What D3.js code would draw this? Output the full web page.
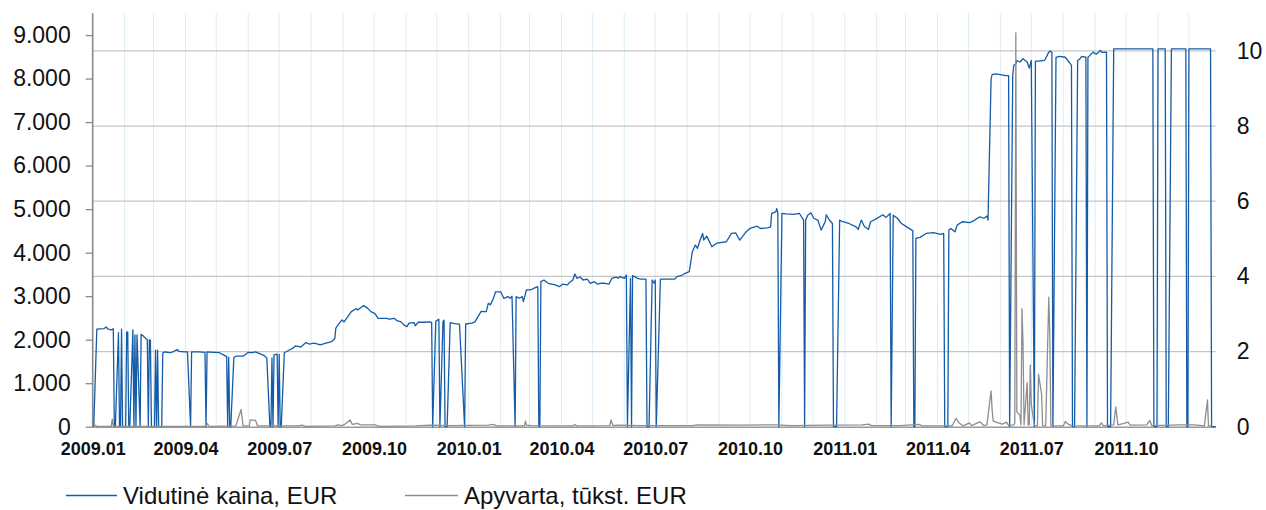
<!DOCTYPE html>
<html><head><meta charset="utf-8">
<script src="https://cdn.jsdelivr.net/npm/d3@7"></script>
<style>html,body{margin:0;padding:0;background:#fff}svg{display:block}</style>
</head><body>
<svg id="c" width="1266" height="510"></svg>
<script>
const priceSeries = [
["2009-01-02",0],["2009-01-05",2240],["2009-01-08",2250],["2009-01-12",2255],["2009-01-14",2290],["2009-01-16",2240],["2009-01-19",2225],["2009-01-21",2250],
["2009-01-22",0],["2009-01-23",0],["2009-01-26",2160],["2009-01-27",0],["2009-01-28",0],["2009-01-29",2240],["2009-01-30",0],["2009-02-02",0],["2009-02-03",2180],["2009-02-04",2175],["2009-02-05",0],["2009-02-06",0],["2009-02-09",2225],["2009-02-10",0],["2009-02-11",2110],["2009-02-12",0],["2009-02-13",2110],["2009-02-16",0],["2009-02-17",2125],["2009-02-18",2100],["2009-02-19",2090],["2009-02-20",2060],["2009-02-23",2000],["2009-02-24",0],["2009-02-25",2000],["2009-02-26",1980],["2009-02-27",0],["2009-03-02",0],["2009-03-03",1760],["2009-03-04",0],["2009-03-05",1760],["2009-03-06",0],["2009-03-09",0],["2009-03-10",1690],["2009-03-12",1720],["2009-03-16",1700],["2009-03-19",1710],["2009-03-24",1775],["2009-03-26",1730],["2009-03-31",1720],["2009-04-03",1720],["2009-04-06",0],["2009-04-07",1720],["2009-04-14",1720],["2009-04-20",1710],["2009-04-21",0],["2009-04-22",1720],["2009-04-28",1710],["2009-05-04",1700],["2009-05-08",1650],["2009-05-11",1612],["2009-05-12",0],["2009-05-13",1600],["2009-05-14",0],["2009-05-15",0],["2009-05-18",1590],["2009-05-20",1620],["2009-05-27",1620],["2009-06-01",1710],["2009-06-05",1700],["2009-06-08",1720],["2009-06-12",1680],["2009-06-16",1640],["2009-06-19",1580],["2009-06-22",0],["2009-06-23",0],["2009-06-24",1580],["2009-06-25",0],["2009-06-26",1650],["2009-06-29",1670],["2009-06-30",0],["2009-07-01",1660],["2009-07-02",0],["2009-07-03",0],["2009-07-06",1700],["2009-07-09",1740],
["2009-07-10",1750],["2009-07-14",1800],["2009-07-17",1858],["2009-07-22",1830],["2009-07-27",1934],["2009-07-30",1900],["2009-08-04",1920],["2009-08-10",1880],["2009-08-17",1934],["2009-08-21",1957],["2009-08-24",2028],["2009-08-25",2264],["2009-08-27",2333],["2009-08-31",2454],["2009-09-02",2408],["2009-09-09",2645],["2009-09-14",2716],["2009-09-15",2680],["2009-09-21",2783],["2009-09-25",2720],["2009-09-28",2645],["2009-10-02",2600],["2009-10-05",2490],["2009-10-13",2490],["2009-10-16",2470],["2009-10-21",2490],["2009-10-23",2440],["2009-10-27",2415],["2009-10-30",2340],["2009-11-02",2300],["2009-11-04",2380],["2009-11-09",2390],["2009-11-10",2320],["2009-11-13",2400],["2009-11-19",2400],["2009-11-24",2410],["2009-11-26",2400],["2009-11-27",0],["2009-11-30",2420],["2009-12-03",2470],["2009-12-04",0],["2009-12-07",2420],["2009-12-08",2450],["2009-12-09",0],["2009-12-11",0],["2009-12-14",2390],["2009-12-18",2370],["2009-12-23",2355],["2009-12-28",0],["2009-12-29",2360],
["2010-01-04",2380],["2010-01-07",2410],["2010-01-13",2650],["2010-01-18",2645],["2010-01-20",2836],["2010-01-22",2800],["2010-01-25",2950],["2010-01-27",3100],["2010-02-01",3100],["2010-02-04",2951],["2010-02-08",2990],["2010-02-10",2951],["2010-02-12",3000],["2010-02-15",0],["2010-02-16",2989],["2010-02-19",2951],["2010-02-22",2990],["2010-02-23",2874],["2010-02-26",3142],["2010-03-02",3142],["2010-03-05",3180],["2010-03-09",3218],["2010-03-10",0],["2010-03-11",0],["2010-03-12",3333],["2010-03-15",3371],["2010-03-19",3296],["2010-03-26",3257],["2010-03-30",3218],["2010-04-02",3275],["2010-04-07",3257],["2010-04-08",3296],["2010-04-12",3371],["2010-04-14",3509],["2010-04-16",3410],["2010-04-19",3440],["2010-04-22",3371],["2010-04-26",3390],["2010-04-29",3296],["2010-05-03",3333],["2010-05-06",3275],["2010-05-10",3300],["2010-05-13",3296],["2010-05-17",3275],["2010-05-20",3410],["2010-05-24",3440],["2010-05-26",3410],["2010-05-28",3450],["2010-06-01",3410],["2010-06-03",3486],["2010-06-04",0],["2010-06-07",3410],["2010-06-08",0],["2010-06-09",3470],["2010-06-14",3410],["2010-06-17",3390],["2010-06-22",3390],["2010-06-23",0],["2010-06-25",0],["2010-06-28",3371],["2010-06-30",3296],["2010-07-01",3371],["2010-07-02",0],["2010-07-06",3390],["2010-07-20",3390],["2010-07-22",3450],["2010-07-26",3470],["2010-07-29",3510],["2010-08-03",3563],["2010-08-04",3700],["2010-08-06",4021],["2010-08-09",4174],["2010-08-11",4097],["2010-08-13",4250],["2010-08-16",4441],["2010-08-17",4290],["2010-08-20",4380],["2010-08-25",4136],["2010-08-30",4220],["2010-09-08",4250],["2010-09-13",4441],["2010-09-17",4456],["2010-09-21",4288],["2010-09-27",4472],["2010-10-01",4555],["2010-10-08",4608],["2010-10-11",4555],["2010-10-18",4570],["2010-10-21",4593],["2010-10-22",4900],["2010-10-26",4938],["2010-10-27",5014],["2010-10-28",4900],["2010-10-29",0],["2010-11-01",4900],["2010-11-05",4890],["2010-11-12",4880],["2010-11-18",4900],["2010-11-22",4748],["2010-11-23",0],["2010-11-24",4748],["2010-11-26",4860],["2010-11-29",4915],["2010-12-02",4790],["2010-12-06",4740],["2010-12-09",4518],["2010-12-13",4710],["2010-12-14",4870],["2010-12-17",4750],["2010-12-20",4670],["2010-12-21",0],["2010-12-24",0],["2010-12-27",4748],["2010-12-30",4710],
["2011-01-05",4670],["2011-01-12",4593],["2011-01-14",4533],["2011-01-17",4748],["2011-01-20",4600],["2011-01-24",4533],["2011-01-26",4710],["2011-01-31",4770],["2011-02-07",4870],["2011-02-10",4810],["2011-02-14",4900],["2011-02-15",0],["2011-02-17",4860],["2011-02-21",4790],["2011-02-25",4670],["2011-03-01",4610],["2011-03-07",4518],["2011-03-08",4500],["2011-03-09",0],["2011-03-10",0],["2011-03-11",4327],["2011-03-15",4350],["2011-03-21",4441],["2011-03-28",4460],["2011-04-04",4420],["2011-04-07",4441],["2011-04-08",0],["2011-04-11",0],["2011-04-12",4518],["2011-04-14",4555],["2011-04-18",4480],["2011-04-20",4633],["2011-04-25",4710],["2011-05-02",4690],["2011-05-06",4730],["2011-05-12",4823],["2011-05-16",4790],["2011-05-19",4840],["2011-05-20",4748],["2011-05-23",8000],["2011-05-24",8090],["2011-05-27",8110],["2011-06-01",8090],["2011-06-06",8070],["2011-06-09",8070],["2011-06-10",0],["2011-06-13",8070],["2011-06-14",8300],["2011-06-16",8340],["2011-06-17",8416],["2011-06-20",8380],["2011-06-23",8455],["2011-06-27",8380],["2011-06-29",8240],["2011-07-01",8416],["2011-07-04",0],["2011-07-05",8400],["2011-07-08",8400],["2011-07-14",8420],["2011-07-18",8607],["2011-07-19",8630],["2011-07-21",8607],["2011-07-22",0],["2011-07-25",8490],["2011-07-28",8510],["2011-08-03",8490],["2011-08-08",8340],["2011-08-09",8300],["2011-08-10",0],["2011-08-12",0],["2011-08-15",8416],["2011-08-17",8450],["2011-08-19",8510],["2011-08-23",8490],["2011-08-24",0],["2011-08-25",8490],["2011-08-26",8510],["2011-08-30",8607],["2011-09-02",8560],["2011-09-06",8645],["2011-09-08",8600],["2011-09-12",8607],["2011-09-13",0],["2011-09-16",0],["2011-09-19",8683],["2011-10-27",8683],["2011-10-28",0],["2011-10-31",0],["2011-11-01",8683],["2011-11-08",8683],["2011-11-09",0],["2011-11-11",0],["2011-11-14",8683],["2011-11-28",8683],["2011-11-29",0],["2011-11-30",0],["2011-12-01",8683],["2011-12-22",8683],["2011-12-23",0],["2011-12-27",0]
];

const turnoverSeries = [
["2009-01-02",0.06],["2009-01-05",0.01],["2009-01-19",0.01],["2009-01-20",0.2],["2009-01-21",0.01],
["2009-04-20",0.01],["2009-04-22",0.09],["2009-04-24",0.01],
["2009-05-20",0.02],["2009-05-25",0.46],["2009-05-27",0.02],
["2009-06-02",0.02],["2009-06-03",0.18],["2009-06-08",0.17],["2009-06-10",0.02],
["2009-07-20",0.02],["2009-07-23",0.04],["2009-07-27",0.01],
["2009-08-24",0.02],["2009-08-27",0.05],["2009-08-31",0.03],["2009-09-03",0.07],["2009-09-08",0.18],["2009-09-10",0.06],["2009-09-15",0.09],["2009-09-18",0.05],["2009-09-25",0.05],["2009-10-02",0.05],["2009-10-06",0.01],
["2009-11-10",0.02],["2009-11-25",0.04],["2009-12-14",0.03],
["2010-01-20",0.04],["2010-01-25",0.06],["2010-01-28",0.02],
["2010-02-24",0.02],["2010-02-25",0.15],["2010-02-26",0.04],["2010-03-03",0.03],
["2010-04-12",0.02],["2010-04-14",0.06],["2010-04-16",0.02],
["2010-05-18",0.03],["2010-05-19",0.18],["2010-05-21",0.03],["2010-05-26",0.04],
["2010-06-17",0.03],["2010-08-06",0.03],["2010-08-11",0.05],
["2010-09-20",0.04],["2010-10-20",0.05],["2010-10-27",0.05],["2010-11-10",0.03],["2010-12-15",0.04],
["2011-01-18",0.05],["2011-01-24",0.07],["2011-01-27",0.03],["2011-02-24",0.03],["2011-03-14",0.06],["2011-03-17",0.02],
["2011-04-15",0.02],["2011-04-19",0.22],["2011-04-22",0.1],["2011-04-26",0.02],["2011-05-02",0.1],["2011-05-04",0.03],["2011-05-12",0.13],["2011-05-16",0.03],["2011-05-19",0.05],["2011-05-20",0.29],["2011-05-23",0.95],["2011-05-24",0.45],["2011-05-25",0.15],["2011-05-30",0.1],["2011-06-03",0.07],["2011-06-07",0.12],["2011-06-09",0.03],["2011-06-14",0.05],["2011-06-15",0.1],["2011-06-16",10.48],["2011-06-17",0.4],["2011-06-20",0.3],["2011-06-21",0.05],["2011-06-22",3.14],["2011-06-23",2.2],["2011-06-24",0.05],["2011-06-27",1.17],["2011-06-28",0.05],["2011-06-29",0.05],["2011-06-30",1.64],["2011-07-01",0.6],["2011-07-04",0.03],["2011-07-07",0.03],["2011-07-08",1.4],["2011-07-11",0.87],["2011-07-12",0.03],["2011-07-15",0.02],["2011-07-18",3.45],["2011-07-19",2.44],["2011-07-20",0.03],["2011-08-01",0.02],["2011-08-03",0.14],["2011-08-05",0.08],["2011-08-09",0.03],["2011-09-05",0.02],["2011-09-07",0.1],["2011-09-09",0.02],["2011-09-19",0.05],["2011-09-21",0.53],["2011-09-23",0.05],["2011-09-28",0.08],["2011-10-03",0.12],["2011-10-05",0.04],["2011-10-21",0.05],["2011-10-24",0.17],["2011-10-26",0.03],["2011-11-23",0.05],["2011-12-06",0.05],["2011-12-16",0.02],["2011-12-19",0.71],["2011-12-20",0.02],["2011-12-23",0.02]
];

const leftTicks = [0,1000,2000,3000,4000,5000,6000,7000,8000,9000];
const rightTicks = [0,2,4,6,8,10];
const xTickLabels = ["2009.01","2009.04","2009.07","2009.10","2010.01","2010.04","2010.07","2010.10","2011.01","2011.04","2011.07","2011.10"];
const seriesNames = ["Vidutinė kaina, EUR","Apyvarta, tūkst. EUR"];
const xDomain = ["2009-01-01","2011-12-27"];

const parse = d3.timeParse("%Y-%m-%d");
const parseLabel = d3.timeParse("%Y.%m");
const price = priceSeries.map(d => ({date: parse(d[0]), v: d[1]}));
const turnover = turnoverSeries.map(d => ({date: parse(d[0]), v: d[1]}));

const L = 92.7, R = 1215.7, T = 13.3, B = 426.7;
const x = d3.scaleTime().domain(xDomain.map(parse)).range([L, R]);
const yL = d3.scaleLinear().domain([0, 9500]).range([B, T]);
const yR = d3.scaleLinear().domain([0, 11]).range([B, T]);

const svg = d3.select("#c");
const font = "'Liberation Sans', Arial, sans-serif";
const locale = d3.formatLocale({decimal: ",", thousands: ".", grouping: [3], currency: ["", ""]});
const fmt = locale.format(",");

// vertical monthly gridlines
const months = d3.timeMonth.range(d3.timeMonth.offset(x.domain()[0], 1), x.domain()[1]);
svg.append("g").selectAll("line").data(months).join("line")
  .attr("x1", d => x(d)).attr("x2", d => x(d))
  .attr("y1", T).attr("y2", B)
  .attr("stroke", "#dcedf6").attr("stroke-width", 1);

// horizontal gridlines (right axis ticks)
svg.append("g").selectAll("line").data(rightTicks.filter(t => t > 0)).join("line")
  .attr("x1", L).attr("x2", R)
  .attr("y1", d => yR(d)).attr("y2", d => yR(d))
  .attr("stroke", "#c6c6c6").attr("stroke-width", 1.3);

// left axis
const gL = svg.append("g").attr("transform", `translate(${L},0)`)
  .call(d3.axisLeft(yL).tickValues(leftTicks).tickSize(7).tickPadding(15).tickFormat(fmt));
gL.select(".domain").remove();
gL.selectAll(".tick line").attr("stroke", "#8a8a8a").attr("stroke-width", 1.3);
gL.selectAll(".tick text").attr("font-family", font).attr("font-size", 23).attr("fill", "#111");
svg.append("line").attr("x1", L).attr("x2", L).attr("y1", T).attr("y2", B + 1)
  .attr("stroke", "#8a8a8a").attr("stroke-width", 1.6);

// right axis
const gR = svg.append("g").attr("transform", `translate(${R},0)`)
  .call(d3.axisRight(yR).tickValues(rightTicks).tickSize(0).tickPadding(21));
gR.select(".domain").remove();
gR.selectAll(".tick text").attr("font-family", font).attr("font-size", 23).attr("fill", "#111");

// x axis
const gX = svg.append("g").attr("transform", `translate(0,${B})`)
  .call(d3.axisBottom(x).tickValues(xTickLabels.map(parseLabel)).tickSize(0).tickPadding(16).tickFormat(d3.timeFormat("%Y.%m")));
gX.select(".domain").attr("stroke", "#9a9a9a").attr("stroke-width", 1.5);
gX.selectAll(".tick text").attr("font-family", font).attr("font-size", 18).attr("font-weight", "bold").attr("fill", "#111");

// series
const lineP = d3.line().x(d => x(d.date)).y(d => yL(d.v));
const lineT = d3.line().x(d => x(d.date)).y(d => yR(d.v));
svg.append("path").datum(price).attr("d", lineP)
  .attr("fill", "none").attr("stroke", "#155ca8").attr("stroke-width", 1.3).attr("stroke-linejoin", "round");
svg.append("path").datum(turnover).attr("d", lineT)
  .attr("fill", "none").attr("stroke", "#8e8e8e").attr("stroke-width", 1.3).attr("stroke-linejoin", "round");

// legend
const legend = [
  {name: seriesNames[0], color: "#155ca8", x1: 66, x2: 117},
  {name: seriesNames[1], color: "#8e8e8e", x1: 405, x2: 458}
];
const lg = svg.append("g");
legend.forEach(d => {
  lg.append("line").attr("x1", d.x1).attr("x2", d.x2).attr("y1", 495.5).attr("y2", 495.5)
    .attr("stroke", d.color).attr("stroke-width", 1.3);
  lg.append("text").attr("x", d.x2 + 6).attr("y", 503.5).text(d.name)
    .attr("font-family", font).attr("font-size", 24).attr("fill", "#111");
});
</script>
</body></html>
